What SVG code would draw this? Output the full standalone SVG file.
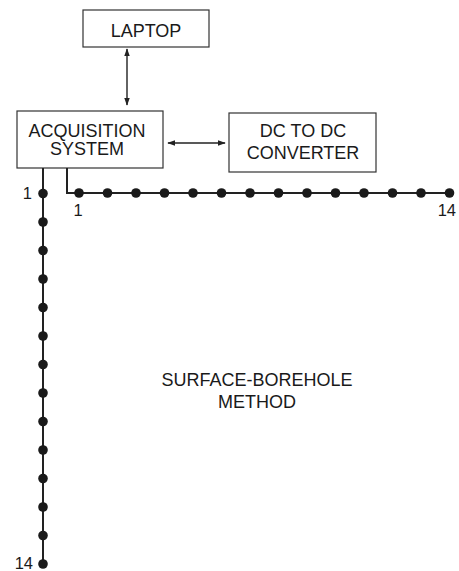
<svg xmlns="http://www.w3.org/2000/svg" width="459" height="571" viewBox="0 0 459 571">
<style>
.box{fill:#fff;stroke:#333;stroke-width:1.2}
.t{font-family:"Liberation Sans",Arial,sans-serif;font-size:18px;fill:#1a1a1a;text-anchor:middle}
.lbl{font-family:"Liberation Sans",Arial,sans-serif;font-size:16.5px;fill:#1a1a1a}
.cable{fill:none;stroke:#222;stroke-width:2}
.arr{fill:none;stroke:#222;stroke-width:1.4}
.dot{fill:#1a1a1a}
</style>
<defs>
<marker id="ah" viewBox="0 0 10 10" refX="9" refY="5" markerWidth="8" markerHeight="8" orient="auto-start-reverse" markerUnits="userSpaceOnUse">
<path d="M0,1.5 L10,5 L0,8.5 Z" fill="#222"/>
</marker>
</defs>
<g id="laptop">
<rect class="box" x="83" y="10" width="126" height="37"/>
<text class="t" x="146" y="36.5">LAPTOP</text>
</g>
<g id="acquisition-system">
<rect class="box" x="17" y="111" width="146" height="57"/>
<text class="t" x="87" y="136.5">ACQUISITION</text>
<text class="t" x="87" y="155">SYSTEM</text>
</g>
<g id="dc-converter">
<rect class="box" x="229" y="113" width="147" height="59"/>
<text class="t" x="303" y="136.5">DC TO DC</text>
<text class="t" x="303" y="159">CONVERTER</text>
</g>
<g id="connectors">
<line class="arr" x1="127" y1="49" x2="127" y2="105" marker-start="url(#ah)" marker-end="url(#ah)"/>
<line class="arr" x1="168" y1="143" x2="225" y2="143" marker-start="url(#ah)" marker-end="url(#ah)"/>
<path class="cable" d="M43,168 V564"/>
<path class="cable" d="M67,168 V193 H449.5"/>
</g>
<g id="borehole-string">
<circle class="dot" cx="43" cy="193.5" r="4.8"/>
<circle class="dot" cx="43" cy="222" r="4.8"/>
<circle class="dot" cx="43" cy="250.5" r="4.8"/>
<circle class="dot" cx="43" cy="279" r="4.8"/>
<circle class="dot" cx="43" cy="307.5" r="4.8"/>
<circle class="dot" cx="43" cy="336" r="4.8"/>
<circle class="dot" cx="43" cy="364.5" r="4.8"/>
<circle class="dot" cx="43" cy="393" r="4.8"/>
<circle class="dot" cx="43" cy="421.5" r="4.8"/>
<circle class="dot" cx="43" cy="450" r="4.8"/>
<circle class="dot" cx="43" cy="478.5" r="4.8"/>
<circle class="dot" cx="43" cy="507" r="4.8"/>
<circle class="dot" cx="43" cy="535.5" r="4.8"/>
<circle class="dot" cx="43" cy="564" r="4.8"/>
<text class="lbl" x="32" y="199" text-anchor="end">1</text>
<text class="lbl" x="33" y="569" text-anchor="end">14</text>
</g>
<g id="surface-string">
<circle class="dot" cx="79" cy="193" r="4.8"/>
<circle class="dot" cx="107.5" cy="193" r="4.8"/>
<circle class="dot" cx="136" cy="193" r="4.8"/>
<circle class="dot" cx="164.5" cy="193" r="4.8"/>
<circle class="dot" cx="193" cy="193" r="4.8"/>
<circle class="dot" cx="221.5" cy="193" r="4.8"/>
<circle class="dot" cx="250" cy="193" r="4.8"/>
<circle class="dot" cx="278.5" cy="193" r="4.8"/>
<circle class="dot" cx="307" cy="193" r="4.8"/>
<circle class="dot" cx="335.5" cy="193" r="4.8"/>
<circle class="dot" cx="364" cy="193" r="4.8"/>
<circle class="dot" cx="392.5" cy="193" r="4.8"/>
<circle class="dot" cx="421" cy="193" r="4.8"/>
<circle class="dot" cx="449.5" cy="193" r="4.8"/>
<text class="lbl" x="78" y="215.5" text-anchor="middle">1</text>
<text class="lbl" x="456" y="215.5" text-anchor="end">14</text>
</g>
<g id="method-label">
<text class="t" x="257" y="386">SURFACE-BOREHOLE</text>
<text class="t" x="257" y="408">METHOD</text>
</g>
</svg>
